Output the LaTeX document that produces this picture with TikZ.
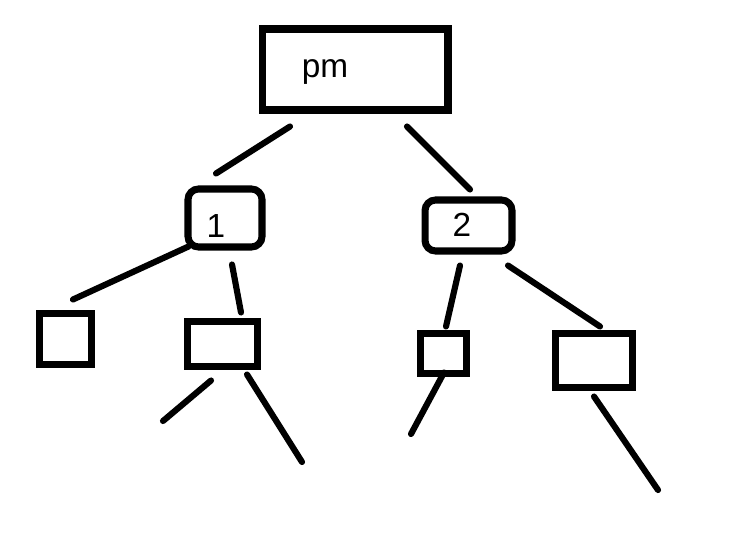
\documentclass[tikz,border=0pt]{standalone}
\usepackage{fontspec}
\setmainfont{Liberation Sans}
\usetikzlibrary{calc}
\begin{document}
\begin{tikzpicture}[x=0.02cm,y=0.02cm,
        box/.style={draw,line width=4pt,inner sep=0pt,minimum width=#1},
        box/.default=1cm,
        edge/.style={line width=3.5pt,line cap=round},
        lbl/.style={font=\fontsize{19}{19}\selectfont}]
    \useasboundingbox (0,0) rectangle (742,544);
    \node[box=3.72cm,minimum height=1.62cm] (pm) at (355,474.5) {};
    \node[lbl] (pmtext) at (325,472) {pm};
    \node[box=1.48cm,minimum height=1.16cm,rounded corners=6pt] (n1) at (225,326) {};
    \node[lbl] (n1text) at (216,318) {1};
    \node[box=1.74cm,minimum height=1.02cm,rounded corners=6pt] (n2) at (468.5,318.5) {};
    \node[lbl] (n2text) at (462,319) {2};
    \node[box=1.04cm,minimum height=1.02cm] (left) at (65.5,205) {};
    \node[box=1.4cm,minimum height=0.9cm] (mid) at (222.5,200) {};
    \node[box=0.92cm,minimum height=0.8cm] (small) at (443.5,190.5) {};
    \node[box=1.54cm,minimum height=1.08cm] (right) at (594,183.5) {};
    \coordinate (leafa) at (163,123);
    \coordinate (leafb) at (302,82);
    \coordinate (leafc) at (411,110);
    \coordinate (leafd) at (658,54);
    % branches
    \draw[edge] ($(pm.south)+(-65,-13)$) -- ($(n1.north)+(-9,12)$);
    \draw[edge] ($(pm.south)+(52,-13)$) -- ($(n2.north)+(1.5,7)$);
    \draw[edge] ($(n1.south west)+(4,4)$) -- ($(left.north)+(7.5,10.5)$);
    \draw[edge] ($(n1.south)+(7,-14)$) -- ($(mid.north)+(18.5,5.5)$);
    \draw[edge] ($(mid.south)+(-11.5,-10.5)$) -- (leafa);
    \draw[edge] ($(mid.south)+(24.5,-4.5)$) -- (leafb);
    \draw[edge] ($(n2.south)+(-8.5,-11)$) -- ($(small.north)+(2.5,3.5)$);
    \draw[edge] ($(small.south)+(0.5,4.5)$) -- (leafc);
    \draw[edge] ($(n2.south)+(39.5,-11)$) -- ($(right.north)+(6,3.5)$);
    \draw[edge] ($(right.south)+(0,-5.5)$) -- (leafd);
\end{tikzpicture}
\end{document}
